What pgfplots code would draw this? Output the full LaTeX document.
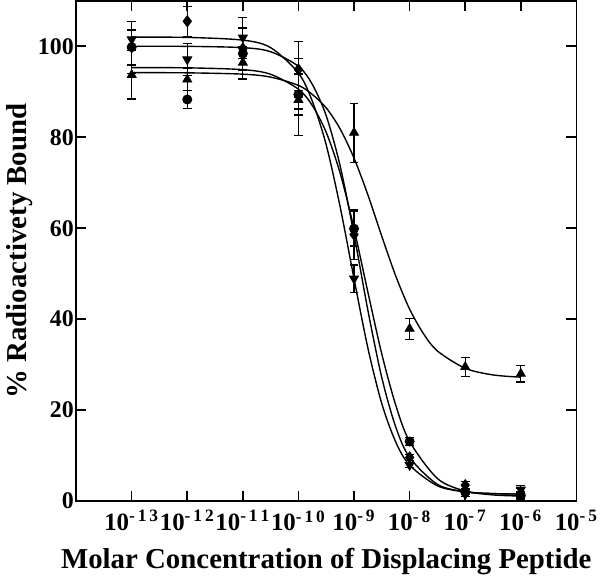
\documentclass[border=0pt]{standalone}
\usepackage{fontspec}
\setmainfont{Liberation Serif}
\usepackage{pgfplots}
\pgfplotsset{compat=1.18}

\newcommand{\dec}[1]{\textbf{10\textsuperscript{\bfseries #1}}}

\begin{document}
\begin{tikzpicture}
\begin{axis}[
  scale only axis,
  width=251.5pt,height=251.5pt,
  xmin=-14,xmax=-5,ymin=0,ymax=110,
  axis line style={line width=0.8pt},
  tick align=inside,
  major tick length=5pt,
  tick style={line width=0.8pt,black},
  xtick={-13,...,-5},
  xticklabels={\dec{-\,1\,3},\dec{-\,1\,2},\dec{-\,1\,1},\dec{-\,1\,0},
    \dec{-\,9},\dec{-\,8},\dec{-\,7},\dec{-\,6},\dec{-\,5}},
  ytick={0,20,40,60,80,100},
  yticklabels={\textbf{0},\textbf{20},\textbf{40},\textbf{60},\textbf{80},\textbf{100}},
  xticklabel style={font=\fontsize{12.5}{14}\selectfont,inner sep=1pt,yshift=-3.5pt},
  yticklabel style={font=\fontsize{12}{14}\selectfont,inner sep=1pt},
  xlabel={\textbf{Molar Concentration of Displacing Peptide}},
  ylabel={\textbf{\% Radioactivety Bound}},
  xlabel style={font=\fontsize{14.5}{16}\selectfont,yshift=-4pt},
  ylabel style={font=\fontsize{14.5}{16}\selectfont,yshift=-2pt},
  error bars/y dir=both,
  error bars/y explicit,
  error bars/error bar style={line width=0.6pt,black},
  error bars/error mark options={rotate=90,mark size=2.2pt,line width=0.6pt,black},
]
% fitted curves
\addplot[black,line width=0.7pt,smooth,no marks] coordinates {
  (-13,102.0) (-12,101.95) (-11,101.35) (-10.5,99.7) (-10,94.1) (-9.75,87.9)
  (-9.5,78.3) (-9.25,64.7) (-9,48.9) (-8.75,33.6) (-8.5,21.4) (-8.25,13.0)
  (-8,7.9) (-7.5,3.36) (-7,2.02) (-6.5,1.65) (-6,1.54)};
\addplot[black,line width=0.7pt,smooth,no marks] coordinates {
  (-13,100.0) (-12,99.98) (-11,99.7) (-10.5,98.8) (-10,95.6) (-9.75,91.6)
  (-9.5,84.7) (-9.25,73.7) (-9,58.6) (-8.75,41.9) (-8.5,27.1) (-8.25,16.3)
  (-8,9.6) (-7.5,3.68) (-7,2.06) (-6.5,1.65) (-6,1.54)};
\addplot[black,line width=0.7pt,smooth,no marks] coordinates {
  (-13,95.3) (-12,95.26) (-11,94.86) (-10.5,93.84) (-10,90.56) (-9.75,86.96)
  (-9.5,81.06) (-9.25,72.1) (-9,59.9) (-8.75,45.9) (-8.5,32.3) (-8.25,21.1)
  (-8,13.1) (-7.5,4.96) (-7,2.21) (-6.5,1.36) (-6,1.11)};
\addplot[black,line width=0.7pt,smooth,no marks] coordinates {
  (-13,94.2) (-12,94.16) (-11,93.87) (-10.5,93.22) (-10,91.4) (-9.75,89.4)
  (-9.5,86.44) (-9.25,81.83) (-9,75.4) (-8.75,67.3) (-8.5,58.2) (-8.25,49.5)
  (-8,42.2) (-7.75,36.8) (-7.5,33.0) (-7,29.2) (-6.5,27.74) (-6,27.25)};
% data: circles
\addplot[black,only marks,mark=*,mark size=2.3pt] coordinates {
  (-13,99.8) +- (0,3.9) (-12,88.3) +- (0,2.0) (-11,98.4) +- (0,5.6)
  (-10,89.4) +- (0,4.5) (-9,59.9) +- (0,3.8) (-8,13.1) +- (0,0.8)
  (-7,2.0) +- (0,0.5) (-6,1.2) +- (0,0.8)};
% diamonds
\addplot[black,only marks,mark=diamond*,mark size=2.8pt] coordinates {
  (-13,99.8) +- (0,5.7) (-12,105.5) +- (0,3.3) (-11,99.5) +- (0,4.7)
  (-10,94.9) +- (0,6.1) (-9,58.6) +- (0,5.4) (-8,9.6) +- (0,0.6)
  (-7,3.5) +- (0,0.8) (-6,1.7) +- (0,1.0)};
% down triangles
\addplot[black,only marks,mark=triangle*,mark size=2.6pt,
  mark options={rotate=180}] coordinates {
  (-13,101.5) +- (0,2.0) (-12,97.1) +- (0,3.5) (-11,101.9) +- (0,4.5)
  (-10,88.9) +- (0,8.5) (-9,48.9) +- (0,3.0) (-8,7.9) +- (0,0.5)
  (-7,1.5) +- (0,0.5) (-6,2.5) +- (0,1.0)};
% up triangles
\addplot[black,only marks,mark=triangle*,mark size=2.6pt] coordinates {
  (-13,93.7) +- (0,5.3) (-12,92.7) +- (0,2.5) (-11,96.4) +- (0,3.6)
  (-10,88.2) +- (0,2.0) (-9,81.0) +- (0,6.5) (-8,37.9) +- (0,2.3)
  (-7,29.5) +- (0,2.1) (-6,28.0) +- (0,1.8)};
\end{axis}
\end{tikzpicture}
\end{document}
